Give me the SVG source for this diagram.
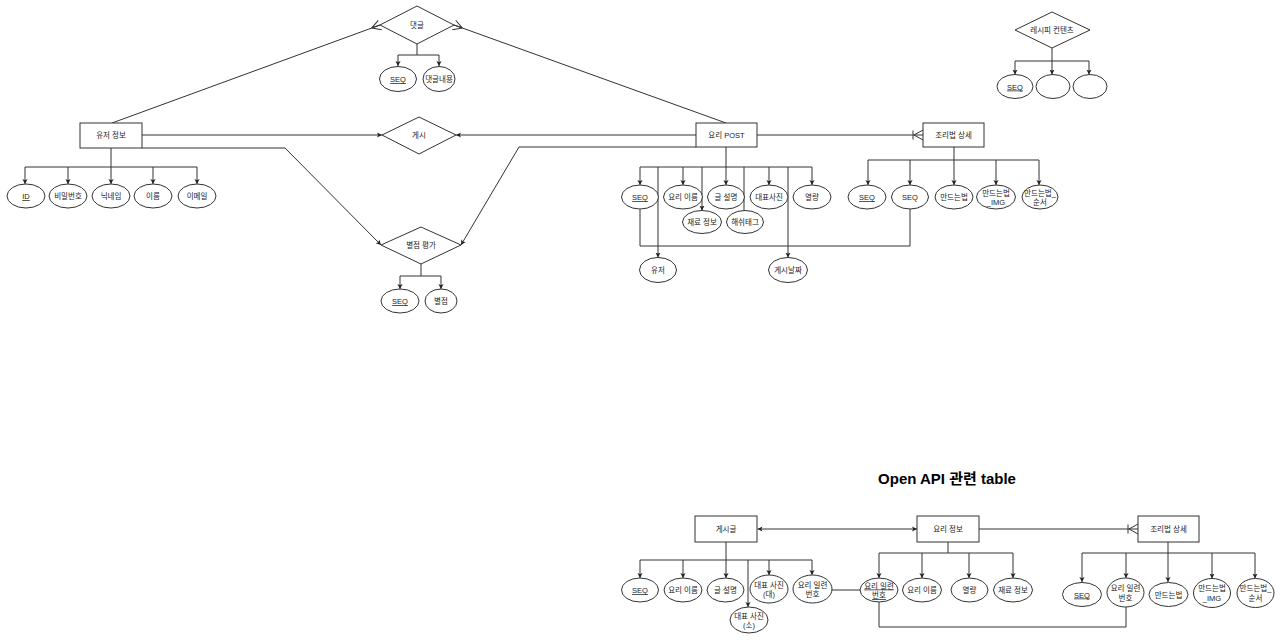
<svg xmlns="http://www.w3.org/2000/svg" width="1280" height="640" viewBox="0 0 1280 640">
  <style>
    text { font-family: "Liberation Sans", "Noto Sans CJK KR", sans-serif; font-size: 7.5px; fill: #222; text-anchor: middle; }
    .title { font-size: 15px; font-weight: bold; fill: #000; }
    .u { text-decoration: underline; }
    .box { fill: #fff; stroke: #333; stroke-width: 1; }
    .ln { fill: none; stroke: #333; stroke-width: 1; }
    .a { marker-end: url(#arr); }
  </style>
  <defs>
    <marker id="arr" markerUnits="userSpaceOnUse" viewBox="0 0 5 6" markerWidth="5" markerHeight="6" refX="5" refY="3" orient="auto">
      <path d="M0,0.4 L5,3 L0,5.6 L1.2,3 Z" fill="#222"/>
    </marker>
    <marker id="arrStart" markerUnits="userSpaceOnUse" viewBox="0 0 5 6" markerWidth="5" markerHeight="6" refX="0" refY="3" orient="auto">
      <path d="M5,0.4 L0,3 L5,5.6 L3.8,3 Z" fill="#222"/>
    </marker>
    <!-- crow's foot (many) -->
    <marker id="many" markerUnits="userSpaceOnUse" viewBox="-10 -6 11 12" markerWidth="11" markerHeight="12" refX="0" refY="0" orient="auto">
      <path d="M-9,0 L0,-5 M-9,0 L0,5 M-9,0 L0,0" fill="none" stroke="#333" stroke-width="1"/>
    </marker>
    <!-- one-to-many -->
    <marker id="oneMany" markerUnits="userSpaceOnUse" viewBox="-12 -6 13 12" markerWidth="13" markerHeight="12" refX="0" refY="0" orient="auto">
      <path d="M-9,0 L0,-5 M-9,0 L0,5 M-10,-4.5 L-10,4.5" fill="none" stroke="#333" stroke-width="1"/>
    </marker>
  </defs>

  <rect width="1280" height="640" fill="#fff"/>

  <!-- connectors -->
  <g id="connectors">
    <!-- 유저 정보 attributes -->
    <path class="ln" d="M111,148 V167 M25,167 H197"/>
    <path class="ln a" d="M25,167 V184"/>
    <path class="ln a" d="M68,167 V184"/>
    <path class="ln a" d="M111,167 V184"/>
    <path class="ln a" d="M153,167 V184"/>
    <path class="ln a" d="M197,167 V184"/>

    <!-- relations around 댓글 / 게시 / 별점 평가 -->
    <path class="ln" d="M112,123 L380,25" marker-end="url(#many)"/>
    <path class="ln" d="M726,123 L454,25" marker-end="url(#many)"/>
    <path class="ln a" d="M142,135 H382"/>
    <path class="ln a" d="M696,135 H456"/>
    <path class="ln a" d="M142,148 H285 L381,245"/>
    <path class="ln a" d="M696,147 H519 L461,245"/>
    <path class="ln" d="M757,135 H923" marker-end="url(#oneMany)"/>

    <!-- 댓글 attributes -->
    <path class="ln" d="M417,44 V55 M398,55 H439"/>
    <path class="ln a" d="M398,55 V66"/>
    <path class="ln a" d="M439,55 V66"/>

    <!-- 별점 평가 attributes -->
    <path class="ln" d="M421,264 V276 M400,276 H441"/>
    <path class="ln a" d="M400,276 V289"/>
    <path class="ln a" d="M441,276 V289"/>

    <!-- 요리 POST attributes -->
    <path class="ln" d="M726,147 V167 M640,167 H812"/>
    <path class="ln a" d="M640,167 V185"/>
    <path class="ln a" d="M683,167 V185"/>
    <path class="ln a" d="M726,167 V185"/>
    <path class="ln a" d="M769,167 V185"/>
    <path class="ln a" d="M812,167 V185"/>
    <path class="ln a" d="M658,167 V257.5"/>
    <path class="ln a" d="M702,167 V210.5"/>
    <path class="ln" d="M744,167 V210.5"/>
    <path class="ln a" d="M788,167 V257.5"/>
    <path class="ln" d="M640,209 V246 H910 V209"/>

    <!-- 조리법 상세 attributes -->
    <path class="ln" d="M954,147 V160 M868,160 H1039"/>
    <path class="ln a" d="M868,160 V185"/>
    <path class="ln a" d="M910,160 V185"/>
    <path class="ln a" d="M954,160 V185"/>
    <path class="ln a" d="M996,160 V185"/>
    <path class="ln a" d="M1039,160 V185"/>

    <!-- 레시피 컨텐츠 attributes -->
    <path class="ln" d="M1052,48 V61 M1015,61 H1089"/>
    <path class="ln a" d="M1015,61 V74.5"/>
    <path class="ln a" d="M1052,61 V74.5"/>
    <path class="ln a" d="M1089,61 V74.5"/>

    <!-- Open API tables -->
    <path class="ln a" d="M917,529 H757.5" marker-start="url(#arrStart)"/>
    <path class="ln" d="M979,529 H1138" marker-end="url(#oneMany)"/>

    <path class="ln" d="M726,542 V560 M640,560 H812"/>
    <path class="ln a" d="M640,560 V578"/>
    <path class="ln a" d="M683,560 V578"/>
    <path class="ln a" d="M726,560 V578"/>
    <path class="ln a" d="M769,560 V575"/>
    <path class="ln a" d="M812,560 V575"/>
    <path class="ln a" d="M748,560 V607"/>
    <path class="ln" d="M832,590 H860"/>

    <path class="ln" d="M948,542 V553 M879,553 H1013"/>
    <path class="ln a" d="M879,553 V578"/>
    <path class="ln a" d="M922,553 V578"/>
    <path class="ln a" d="M969,553 V578"/>
    <path class="ln a" d="M1013,553 V578"/>
    <path class="ln" d="M879,602 V627 H1126 V607"/>

    <path class="ln" d="M1168,542 V553 M1082,553 H1255"/>
    <path class="ln a" d="M1082,553 V582"/>
    <path class="ln a" d="M1126,553 V578"/>
    <path class="ln a" d="M1168,553 V582"/>
    <path class="ln a" d="M1212,553 V578.5"/>
    <path class="ln a" d="M1255,553 V578.5"/>
  </g>

  <!-- entity: 유저 정보 -->
  <g id="user-info">
    <rect class="box" x="80" y="123" width="62" height="25"/>
    <text x="111" y="138">유저 정보</text>
  </g>
  <g id="user-id"><ellipse class="box" cx="26" cy="196" rx="19" ry="12"/><text class="u" x="26" y="199">ID</text></g>
  <g id="user-pw"><ellipse class="box" cx="68" cy="196" rx="19" ry="12"/><text x="68" y="199">비밀번호</text></g>
  <g id="user-nick"><ellipse class="box" cx="111" cy="196" rx="19" ry="12"/><text x="111" y="199">닉네임</text></g>
  <g id="user-name"><ellipse class="box" cx="153" cy="196" rx="19" ry="12"/><text x="153" y="199">이름</text></g>
  <g id="user-email"><ellipse class="box" cx="197" cy="196" rx="19" ry="12"/><text x="197" y="199">이메일</text></g>

  <!-- relation: 댓글 -->
  <g id="comment">
    <polygon class="box" points="380,25 417,6 454,25 417,44"/>
    <text x="417" y="28">댓글</text>
  </g>
  <g id="comment-seq"><ellipse class="box" cx="398" cy="79" rx="18.5" ry="12.5"/><text class="u" x="398" y="82">SEQ</text></g>
  <g id="comment-body"><ellipse class="box" cx="439" cy="79" rx="16" ry="12.5"/><text x="439" y="82">댓글내용</text></g>

  <!-- relation: 게시 -->
  <g id="post-rel">
    <polygon class="box" points="382,135 419,117 456,135 419,154"/>
    <text x="419" y="138">게시</text>
  </g>

  <!-- relation: 별점 평가 -->
  <g id="rating">
    <polygon class="box" points="381,245 421,227 461,245 421,264"/>
    <text x="421" y="248">별점 평가</text>
  </g>
  <g id="rating-seq"><ellipse class="box" cx="400" cy="301" rx="19" ry="12"/><text class="u" x="400" y="304">SEQ</text></g>
  <g id="rating-score"><ellipse class="box" cx="441" cy="301" rx="16" ry="12"/><text x="441" y="304">별점</text></g>

  <!-- entity: 요리 POST -->
  <g id="recipe-post">
    <rect class="box" x="696" y="123" width="61" height="24"/>
    <text x="726.5" y="138">요리 POST</text>
  </g>
  <g id="post-seq"><ellipse class="box" cx="640" cy="197" rx="18.5" ry="12"/><text class="u" x="640" y="200">SEQ</text></g>
  <g id="post-name"><ellipse class="box" cx="683" cy="197" rx="19.5" ry="12"/><text x="683" y="200">요리 이름</text></g>
  <g id="post-desc"><ellipse class="box" cx="726" cy="197" rx="18.5" ry="12"/><text x="726" y="200">글 설명</text></g>
  <g id="post-photo"><ellipse class="box" cx="769" cy="197" rx="19" ry="12"/><text x="769" y="200">대표사진</text></g>
  <g id="post-kcal"><ellipse class="box" cx="812" cy="197" rx="19" ry="12"/><text x="812" y="200">열량</text></g>
  <g id="post-ingredients"><ellipse class="box" cx="702" cy="222" rx="19.5" ry="11.5"/><text x="702" y="225">재료 정보</text></g>
  <g id="post-hashtag"><ellipse class="box" cx="745" cy="222" rx="18.5" ry="11.5"/><text x="745" y="225">해쉬태그</text></g>
  <g id="post-user"><ellipse class="box" cx="658" cy="270" rx="18.5" ry="12.5"/><text x="658" y="273">유저</text></g>
  <g id="post-date"><ellipse class="box" cx="788" cy="270" rx="19.5" ry="12.5"/><text x="788" y="273">게시날짜</text></g>

  <!-- entity: 조리법 상세 -->
  <g id="recipe-detail">
    <rect class="box" x="923" y="123" width="61" height="24"/>
    <text x="953.5" y="138">조리법 상세</text>
  </g>
  <g id="detail-seq"><ellipse class="box" cx="867" cy="197" rx="19" ry="12"/><text class="u" x="867" y="200">SEQ</text></g>
  <g id="detail-post-seq"><ellipse class="box" cx="910" cy="197" rx="18.5" ry="12"/><text x="910" y="200">SEQ</text></g>
  <g id="detail-step"><ellipse class="box" cx="954" cy="197" rx="19" ry="12"/><text x="954" y="200">만드는법</text></g>
  <g id="detail-img"><ellipse class="box" cx="996" cy="197" rx="19.5" ry="12"/><text x="996" y="195.5">만드는법</text><text x="996" y="204.5">_IMG</text></g>
  <g id="detail-order"><ellipse class="box" cx="1040" cy="197" rx="18" ry="12"/><text x="1040" y="195.5">만드는법_</text><text x="1040" y="204.5">순서</text></g>

  <!-- relation: 레시피 컨텐츠 -->
  <g id="recipe-content">
    <polygon class="box" points="1015,30 1052,12 1090,30 1052,48"/>
    <text x="1052" y="33">레시피 컨텐츠</text>
  </g>
  <g id="content-seq"><ellipse class="box" cx="1015" cy="86.5" rx="18" ry="12"/><text class="u" x="1015" y="89.5">SEQ</text></g>
  <g id="content-a"><ellipse class="box" cx="1053" cy="86.5" rx="17" ry="12"/></g>
  <g id="content-b"><ellipse class="box" cx="1090" cy="86.5" rx="17" ry="12"/></g>

  <!-- Open API tables -->
  <g id="api-title"><text class="title" x="947" y="484">Open API 관련 table</text></g>

  <g id="article">
    <rect class="box" x="695" y="516" width="62" height="26"/>
    <text x="726" y="532">게시글</text>
  </g>
  <g id="article-seq"><ellipse class="box" cx="640" cy="590" rx="18.5" ry="12"/><text class="u" x="640" y="593">SEQ</text></g>
  <g id="article-name"><ellipse class="box" cx="683" cy="590" rx="19" ry="12"/><text x="683" y="593">요리 이름</text></g>
  <g id="article-desc"><ellipse class="box" cx="725.5" cy="590" rx="18.5" ry="12"/><text x="725.5" y="593">글 설명</text></g>
  <g id="article-photo-l"><ellipse class="box" cx="769" cy="589" rx="19" ry="14"/><text x="769" y="587.5">대표 사진</text><text x="769" y="597">(대)</text></g>
  <g id="article-recipe-no"><ellipse class="box" cx="812.5" cy="589" rx="19.5" ry="14"/><text x="812.5" y="587.5">요리 일련</text><text x="812.5" y="597">번호</text></g>
  <g id="article-photo-s"><ellipse class="box" cx="749" cy="620" rx="19" ry="13"/><text x="749" y="618.5">대표 사진</text><text x="749" y="628">(소)</text></g>

  <g id="recipe-info">
    <rect class="box" x="917" y="516" width="62" height="26"/>
    <text x="948" y="532">요리 정보</text>
  </g>
  <g id="info-no"><ellipse class="box" cx="879" cy="590" rx="19" ry="12"/><text class="u" x="879" y="588.5">요리 일련</text><text class="u" x="879" y="598">번호</text></g>
  <g id="info-name"><ellipse class="box" cx="922" cy="590" rx="19.5" ry="12"/><text x="922" y="593">요리 이름</text></g>
  <g id="info-kcal"><ellipse class="box" cx="969.5" cy="590" rx="18.5" ry="12"/><text x="969.5" y="593">열량</text></g>
  <g id="info-ingredients"><ellipse class="box" cx="1013" cy="590" rx="19.5" ry="12"/><text x="1013" y="593">재료 정보</text></g>

  <g id="api-detail">
    <rect class="box" x="1138" y="516" width="61" height="26"/>
    <text x="1168.5" y="532">조리법 상세</text>
  </g>
  <g id="api-detail-seq"><ellipse class="box" cx="1082" cy="594.5" rx="19.5" ry="12"/><text class="u" x="1082" y="597.5">SEQ</text></g>
  <g id="api-detail-no"><ellipse class="box" cx="1125.5" cy="592.5" rx="18.5" ry="14.5"/><text x="1125.5" y="591">요리 일련</text><text x="1125.5" y="600.5">번호</text></g>
  <g id="api-detail-step"><ellipse class="box" cx="1168.5" cy="594.5" rx="19.5" ry="12"/><text x="1168.5" y="597.5">만드는법</text></g>
  <g id="api-detail-img"><ellipse class="box" cx="1212" cy="593" rx="18.5" ry="14.5"/><text x="1212" y="591">만드는법</text><text x="1212" y="600.5">_IMG</text></g>
  <g id="api-detail-order"><ellipse class="box" cx="1255.5" cy="593" rx="18.5" ry="14.5"/><text x="1255.5" y="591">만드는법_</text><text x="1255.5" y="600.5">순서</text></g>
</svg>
